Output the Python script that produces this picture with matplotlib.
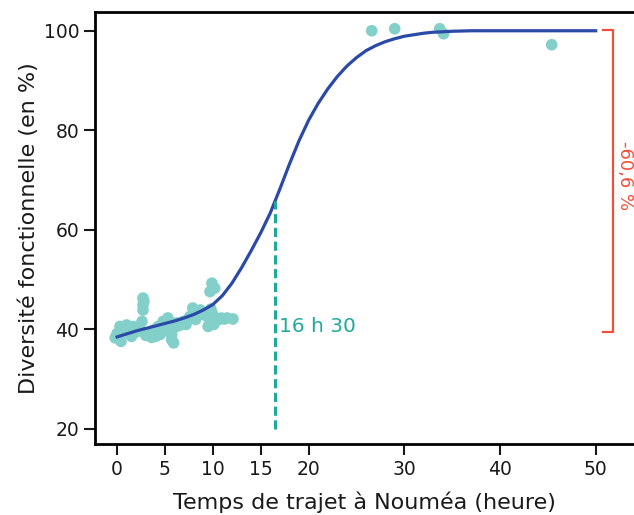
import matplotlib
matplotlib.use("Agg")
import matplotlib.pyplot as plt

# points observés (temps de trajet, diversité fonctionnelle)
obs_x = [-0.2, 0.0, 0.3, 1.0, 1.7, 1.5, 2.4, 2.6, 2.7, 2.7, 2.7, 3.3, 3.8, 4.3,
         4.8, 5.3, 5.7, 5.7, 6.2, 6.9, 7.6, 7.9, 8.7, 9.4, 9.5, 9.9, 10.2, 10.4,
         10.9, 11.5, 12.1, 0.6, 2.0, 3.0, 4.0, 5.0, 6.5, 7.2, 8.2, 9.0, 10.0,
         0.4, 1.2, 2.2, 2.8, 3.6, 4.5, 5.5, 5.9, 6.0, 7.4, 8.0, 8.5, 9.7, 10.1,
         10.6, 11.2, 9.8,
         26.6, 29.0, 33.7, 34.1, 45.4]
obs_y = [38.3, 39.2, 40.6, 40.9, 40.6, 38.6, 39.9, 41.6, 46.3, 44.9, 43.9, 39.3,
         39.9, 40.6, 41.6, 42.3, 37.9, 38.9, 41.3, 41.6, 42.6, 44.3, 43.9, 42.6,
         40.6, 49.3, 48.3, 41.9, 42.3, 42.3, 42.1, 39.8, 39.5, 38.8, 38.6, 40.2,
         40.8, 41.0, 42.0, 43.2, 43.0,
         37.6, 39.4, 40.3, 45.6, 38.4, 39.0, 41.0, 37.3, 40.4, 42.0, 43.6, 42.9,
         47.6, 41.0, 42.0, 42.1, 44.1,
         100.0, 100.4, 100.4, 99.4, 97.2]

# courbe ajustée
fit_x = [0, 1, 2, 3, 4, 5, 6, 7, 8, 9, 10, 11, 12, 13, 14, 15, 16, 16.5, 17,
         18, 19, 20, 21, 22, 23, 24, 25, 26, 27, 28, 29, 30, 31, 32, 33, 34,
         35, 37, 40, 45, 50]
fit_y = [38.5, 39.1, 39.7, 40.2, 40.7, 41.2, 41.7, 42.3, 43.0, 43.9, 45.0,
         46.8, 49.3, 52.4, 55.8, 59.4, 63.4, 65.8, 68.2, 73.2, 77.9, 82.0,
         85.4, 88.3, 90.8, 92.9, 94.6, 96.0, 97.0, 97.8, 98.4, 98.9, 99.2,
         99.5, 99.7, 99.8, 99.9, 100.0, 100.0, 100.0, 100.0]

seuil_x = 16.5
seuil_y = 65.8
seuil_label = "16 h 30"
perte_label = "-60,6 %"
perte_bas = 39.5
perte_haut = 100.2

xticks = [0, 5, 10, 15, 20, 30, 40, 50]
yticks = [20, 40, 60, 80, 100]

fig = plt.figure(figsize=(6.34, 5.15), dpi=100)
ax = fig.add_axes([0.150, 0.138, 0.850, 0.839])

ax.scatter(obs_x, obs_y, s=70, color="#82d0c9", edgecolors="none", zorder=2)
ax.plot(fit_x, fit_y, color="#2b4aa8", lw=2.3, zorder=3)

# seuil
ax.plot([seuil_x, seuil_x], [20, seuil_y], color="#1fa99a", lw=2.2,
        ls=(0, (3, 1.5)), zorder=3)
ax.text(seuil_x + 0.4, 40.5, seuil_label, color="#1fa99a", fontsize=14.5,
        va="center", ha="left")

# crochet rouge
rouge = "#f0503a"
bx = 51.8
ax.plot([bx - 1.0, bx, bx, bx - 1.0], [perte_haut, perte_haut, perte_bas, perte_bas],
        color=rouge, lw=1.6, clip_on=False)
ax.text(53.1, 71, perte_label, color=rouge, fontsize=13, rotation=-90,
        va="center", ha="center")

ax.set_xlim(-2.3, 54.0)
ax.set_ylim(17.0, 103.8)
ax.set_xticks(xticks)
ax.set_yticks(yticks)
ax.tick_params(axis="both", labelsize=13.5, length=8, width=1.5, colors="#1a1a1a")
ax.set_xlabel("Temps de trajet à Nouméa (heure)", fontsize=16, color="#1a1a1a",
              labelpad=9)
ax.set_ylabel("Diversité fonctionnelle (en %)", fontsize=16, color="#1a1a1a",
              labelpad=3)

for side in ["left", "bottom", "top"]:
    ax.spines[side].set_linewidth(2)
ax.spines["right"].set_visible(False)

fig.savefig("out.png", dpi=100)
